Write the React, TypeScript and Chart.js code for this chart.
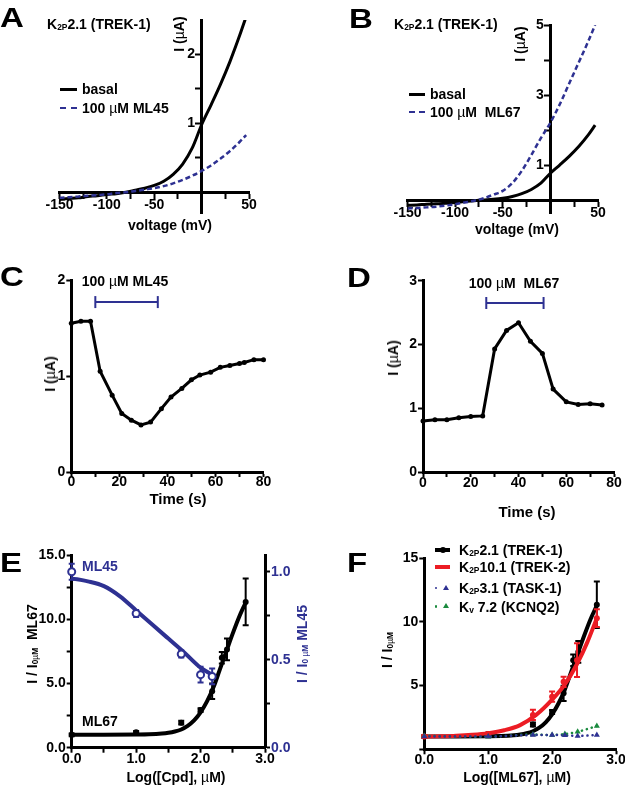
import React, { useEffect, useRef } from "react";
import { Chart, registerables } from "chart.js";
Chart.register(...registerables);

const FONT = 'Arial, "Liberation Sans", Helvetica, sans-serif';
const BLUE = "#2e3192";
const RED = "#ec1c24";
const GREEN = "#1a8a3e";

// ---------- Panel A : K2P2.1 I-V, ML45 ----------
const voltageA = [-150, -140, -130, -120, -110, -100, -90, -80, -70, -60, -50, -40, -30, -20, -10, 0, 10, 20, 30, 40, 47];
const basalA = [-0.1, -0.09, -0.08, -0.06, -0.05, -0.03, -0.02, 0.0, 0.03, 0.06, 0.1, 0.16, 0.26, 0.41, 0.64, 0.98, 1.27, 1.57, 1.9, 2.27, 2.55];
const ml45A = [-0.08, -0.07, -0.06, -0.05, -0.04, -0.03, -0.01, 0.0, 0.02, 0.04, 0.06, 0.09, 0.13, 0.18, 0.24, 0.31, 0.39, 0.49, 0.6, 0.73, 0.83];
const voltTicks = [-150, -125, -100, -75, -50, -25, 0, 25, 50];
const voltLabels = ["-150", "", "-100", "", "-50", "", "", "", "50"];
const ampTicksA = [0.5, 1, 1.5, 2];
const ampLabelsA = ["", "1", "", "2"];

// ---------- Panel B : K2P2.1 I-V, ML67 ----------
const voltageB = [-150, -140, -130, -120, -110, -100, -90, -80, -70, -60, -50, -40, -30, -20, -10, 0, 10, 20, 30, 40, 47];
const basalB = [-0.13, -0.12, -0.1, -0.09, -0.07, -0.05, -0.02, 0.0, 0.02, 0.04, 0.07, 0.12, 0.2, 0.32, 0.5, 0.78, 1.02, 1.27, 1.55, 1.88, 2.15];
const ml67B = [-0.22, -0.21, -0.19, -0.17, -0.14, -0.1, -0.05, 0.0, 0.07, 0.17, 0.28, 0.5, 0.85, 1.3, 1.78, 2.22, 2.75, 3.35, 3.95, 4.55, 5.0];
const ampTicksB = [1, 2, 3, 4, 5];
const ampLabelsB = ["1", "", "3", "", "5"];

// ---------- Panel C : time course ML45 ----------
const timeC = [0, 4, 8, 12, 17, 21, 25, 29, 33, 37.5, 41.5, 46, 50, 53.5, 58, 62, 66, 70, 72, 76, 80];
const currentC = [1.55, 1.57, 1.57, 1.05, 0.8, 0.61, 0.54, 0.49, 0.52, 0.66, 0.78, 0.87, 0.96, 1.01, 1.04, 1.09, 1.11, 1.13, 1.14, 1.17, 1.17];
const barTimeC = [10, 36];
const barLevelC = [1.77, 1.77];

// ---------- Panel D : time course ML67 ----------
const timeD = [0, 5, 10, 15, 20, 25, 30, 35, 40, 45, 50, 54.5, 60, 65, 70, 75];
const currentD = [0.8, 0.82, 0.82, 0.85, 0.87, 0.88, 1.93, 2.22, 2.34, 2.05, 1.86, 1.3, 1.1, 1.06, 1.07, 1.05];
const barTimeD = [26.5, 50.5];
const barLevelD = [2.65, 2.65];
const timeTicks = [0, 10, 20, 30, 40, 50, 60, 70, 80];
const timeLabels = ["0", "", "20", "", "40", "", "60", "", "80"];

// ---------- Panel E : dose response ----------
const logCpd67 = [0, 1.0, 1.7, 2.0, 2.18, 2.33, 2.41, 2.7];
const ratio67 = [1.0, 1.2, 1.95, 2.93, 4.4, 7.0, 7.65, 11.35];
const err67 = [0.1, 0.1, 0.15, 0.15, 0.6, 0.45, 0.85, 1.82];
const fitX67 = [0, 0.5, 1.0, 1.2, 1.4, 1.5, 1.6, 1.7, 1.8, 1.9, 2.0, 2.1, 2.2, 2.3, 2.4, 2.5, 2.6, 2.7];
const fitY67 = [1.0, 1.0, 1.02, 1.04, 1.1, 1.16, 1.26, 1.42, 1.7, 2.12, 2.75, 3.6, 4.7, 6.1, 7.5, 8.9, 10.2, 11.3];
const logCpd45 = [0, 1.0, 1.7, 2.0, 2.18];
const ratio45 = [1.0, 0.763, 0.532, 0.415, 0.405];
const err45 = [0.045, 0.02, 0.02, 0.045, 0.045];
const fitX45 = [0, 0.25, 0.5, 0.75, 1.0, 1.25, 1.5, 1.75, 2.0, 2.2];
const fitY45 = [0.962, 0.945, 0.918, 0.86, 0.78, 0.7, 0.62, 0.54, 0.455, 0.41];
const logTicks = [0, 0.5, 1, 1.5, 2, 2.5, 3];
const logLabels = ["0.0", "", "1.0", "", "2.0", "", "3.0"];
const ratioTicksE = [0, 2.5, 5, 7.5, 10, 12.5, 15];
const ratioLabelsE = ["0.0", "", "5.0", "", "10.0", "", "15.0"];
const ratio45Ticks = [0, 0.25, 0.5, 0.75, 1.0];
const ratio45Labels = ["0.0", "", "0.5", "", "1.0"];

// ---------- Panel F : selectivity ----------
const logTrek2 = [0, 1.0, 1.7, 2.0, 2.18, 2.39, 2.7];
const trek2 = [1.0, 1.2, 2.7, 4.13, 5.3, 7.0, 10.3];
const trek2Err = [0.1, 0.1, 0.4, 0.4, 0.4, 1.33, 0.7];
const fitXTrek2 = [0, 0.25, 0.5, 0.75, 1.0, 1.25, 1.5, 1.75, 2.0, 2.2, 2.4, 2.55, 2.7];
const fitYTrek2 = [1.0, 1.02, 1.06, 1.14, 1.27, 1.5, 1.9, 2.7, 3.9, 5.1, 6.8, 8.4, 10.3];
const logOther = [0, 1.0, 1.7, 2.0, 2.2, 2.4, 2.7];
const task1 = [1.0, 1.0, 1.12, 1.12, 1.1, 1.05, 1.12];
const kcnq2 = [1.05, 0.99, 1.17, 1.12, 1.2, 1.38, 1.83];
const logTicksF = [0, 1, 2, 3];
const logLabelsF = ["0.0", "1.0", "2.0", "3.0"];
const ratioTicksF = [0, 5, 10, 15];
const ratioLabelsF = ["", "5", "10", "15"];

const pts = (xs: number[], ys: number[]) => xs.map((x, i) => ({ x, y: ys[i] }));

const errorBarPlugin = {
  id: "errorBars",
  beforeDatasetDraw(chart: any, args: any) {
    const ds = chart.data.datasets[args.index];
    const errs = ds.errorBars;
    if (!errs) return;
    const meta = args.meta;
    const xs = chart.scales[meta.xAxisID];
    const ys = chart.scales[meta.yAxisID];
    const ctx = chart.ctx;
    ctx.save();
    ctx.strokeStyle = ds.errorColor || ds.borderColor;
    ctx.lineWidth = 2;
    const cap = 3;
    ds.data.forEach((p: any, j: number) => {
      const e = errs[j];
      if (!e) return;
      const px = xs.getPixelForValue(p.x);
      const y1 = ys.getPixelForValue(p.y + e);
      const y2 = ys.getPixelForValue(p.y - e);
      ctx.beginPath();
      ctx.moveTo(px, y1);
      ctx.lineTo(px, y2);
      ctx.moveTo(px - cap, y1);
      ctx.lineTo(px + cap, y1);
      ctx.moveTo(px - cap, y2);
      ctx.lineTo(px + cap, y2);
      ctx.stroke();
    });
    ctx.restore();
  },
};

function axisCfg(o: {
  min: number;
  max: number;
  position: any;
  ticks: number[];
  labels: string[];
  size: number;
  color?: string;
  padding?: number;
  suffix?: string;
}) {
  return {
    type: "linear",
    min: o.min,
    max: o.max,
    position: o.position,
    afterFit: (s: any) => {
      if (s.isHorizontal()) s.height = o.size;
      else s.width = o.size;
    },
    afterBuildTicks: (s: any) => {
      s.ticks = o.ticks.map((v) => ({ value: v }));
    },
    ticks: {
      autoSkip: false,
      maxRotation: 0,
      minRotation: 0,
      padding: o.padding ?? 1,
      color: o.color || "#000",
      font: { family: FONT, size: 14, weight: "bold" },
      callback: (_v: any, i: number) => (o.labels[i] ? o.labels[i] + (o.suffix || "") : ""),
    },
    grid: {
      display: true,
      drawOnChartArea: false,
      drawTicks: true,
      tickLength: 5,
      tickWidth: 2,
      tickColor: "#000",
    },
    border: { display: true, color: "#000", width: 3 },
  };
}

function baseOptions(padding: any, scales: any) {
  return {
    animation: false,
    responsive: false,
    events: [],
    layout: { padding, autoPadding: false },
    plugins: { legend: { display: false }, tooltip: { enabled: false }, title: { display: false } },
    scales,
  };
}

function ChartCanvas({ left, top, width, height, make }: any) {
  const ref = useRef<HTMLCanvasElement | null>(null);
  useEffect(() => {
    const chart = new Chart(ref.current as HTMLCanvasElement, make());
    return () => chart.destroy();
  }, []);
  return (
    <canvas
      ref={ref}
      width={width}
      height={height}
      style={{ position: "absolute", left, top, width, height, display: "block" }}
    />
  );
}

function T({ x, y, size = 14, anchor = "left", color = "#000", rotate = false, weight = "bold", sx = 1, children }: any) {
  let transform = anchor === "center" ? "translate(-50%,-50%)" : "translate(0,-50%)";
  if (rotate) transform = "translate(-50%,-50%) rotate(-90deg)";
  if (sx !== 1) transform += ` scaleX(${sx})`;
  return (
    <div
      style={{
        position: "absolute",
        left: x,
        top: y,
        fontSize: size,
        fontWeight: weight as any,
        color,
        lineHeight: 1,
        whiteSpace: "nowrap",
        fontFamily: FONT,
        transform,
        transformOrigin: sx !== 1 ? "left center" : undefined,
      }}
    >
      {children}
    </div>
  );
}

const Mu = () => <span style={{ fontWeight: "normal" }}>µ</span>;
const Sub = ({ children }: any) => (
  <span style={{ fontSize: "0.6em", verticalAlign: "-0.1em" }}>{children}</span>
);

function Swatch({ x, y, w, color, dashed = false, thick = 3 }: any) {
  return (
    <div
      style={{
        position: "absolute",
        left: x,
        top: y - thick / 2,
        width: w,
        height: 0,
        borderTop: `${thick}px ${dashed ? "dashed" : "solid"} ${color}`,
      }}
    />
  );
}

function Dot({ x, y, r, color, tri = false }: any) {
  if (tri) {
    return (
      <div
        style={{
          position: "absolute",
          left: x - r,
          top: y - r,
          width: 0,
          height: 0,
          borderLeft: `${r}px solid transparent`,
          borderRight: `${r}px solid transparent`,
          borderBottom: `${r * 1.7}px solid ${color}`,
        }}
      />
    );
  }
  return (
    <div
      style={{
        position: "absolute",
        left: x - r,
        top: y - r,
        width: 2 * r,
        height: 2 * r,
        borderRadius: "50%",
        background: color,
      }}
    />
  );
}

const lineDs = (xs: number[], ys: number[], color: string, width: number, extra: any = {}) => ({
  data: pts(xs, ys),
  showLine: true,
  borderColor: color,
  backgroundColor: color,
  borderWidth: width,
  pointRadius: 0,
  cubicInterpolationMode: "monotone",
  ...extra,
});

const makeA = () => ({
  type: "scatter",
  data: {
    datasets: [
      lineDs(voltageA, ml45A, BLUE, 2.5, { borderDash: [5, 3] }),
      lineDs(voltageA, basalA, "#000", 3),
    ],
  },
  options: baseOptions(
    { left: 59.5, top: 20, right: 63, bottom: 47 },
    {
      x: axisCfg({
        min: -150,
        max: 50,
        position: { y: 0 },
        ticks: voltTicks,
        labels: voltLabels,
        size: 0,
        padding: -1,
      }),
      y: axisCfg({
        min: -0.3,
        max: 2.5,
        position: { x: 0 },
        ticks: ampTicksA,
        labels: ampLabelsA,
        size: 0,
        suffix: " \u2009",
      }),
    }
  ),
});

const makeB = () => ({
  type: "scatter",
  data: {
    datasets: [
      lineDs(voltageB, ml67B, BLUE, 2.5, { borderDash: [5, 3] }),
      lineDs(voltageB, basalB, "#000", 3),
    ],
  },
  options: baseOptions(
    { left: 95.5, top: 25, right: 27, bottom: 47 },
    {
      x: axisCfg({
        min: -150,
        max: 50,
        position: { y: 0 },
        ticks: voltTicks,
        labels: voltLabels,
        size: 0,
        padding: -1,
      }),
      y: axisCfg({
        min: -0.35,
        max: 5,
        position: { x: 0 },
        ticks: ampTicksB,
        labels: ampLabelsB,
        size: 0,
        suffix: " \u2009",
      }),
    }
  ),
});

const barDs = (xs: number[], ys: number[]) => ({
  data: pts(xs, ys),
  showLine: true,
  borderColor: BLUE,
  backgroundColor: BLUE,
  borderWidth: 2,
  pointStyle: "line",
  rotation: 90,
  pointRadius: 6,
  pointBorderWidth: 2,
  pointBorderColor: BLUE,
  clip: false,
});

const traceDs = (xs: number[], ys: number[]) => ({
  data: pts(xs, ys),
  showLine: true,
  borderColor: "#000",
  backgroundColor: "#000",
  borderWidth: 3,
  pointRadius: 2.5,
  pointBorderWidth: 0,
  pointBackgroundColor: "#000",
  tension: 0,
  clip: false,
});

const makeC = () => ({
  type: "scatter",
  data: { datasets: [traceDs(timeC, currentC), barDs(barTimeC, barLevelC)] },
  options: baseOptions(
    { left: 0, top: 20, right: 48.5, bottom: 0 },
    {
      x: axisCfg({
        min: 0,
        max: 80,
        position: "bottom",
        ticks: timeTicks,
        labels: timeLabels,
        size: 48,
        padding: -3,
      }),
      y: axisCfg({ min: 0, max: 2, position: "left", ticks: [0, 1, 2], labels: ["0", "1", "2"], size: 71.3 }),
    }
  ),
});

const makeD = () => ({
  type: "scatter",
  data: { datasets: [traceDs(timeD, currentD), barDs(barTimeD, barLevelD)] },
  options: baseOptions(
    { left: 0, top: 20.7, right: 11, bottom: 0 },
    {
      x: axisCfg({
        min: 0,
        max: 80,
        position: "bottom",
        ticks: timeTicks,
        labels: timeLabels,
        size: 48,
        padding: -2,
      }),
      y: axisCfg({
        min: 0,
        max: 3,
        position: "left",
        ticks: [0, 1, 2, 3],
        labels: ["0", "1", "2", "3"],
        size: 111,
      }),
    }
  ),
});

const pointDs = (xs: number[], ys: number[], errs: number[] | undefined, color: string, extra: any = {}) => ({
  data: pts(xs, ys),
  showLine: false,
  borderColor: color,
  backgroundColor: color,
  pointRadius: 3,
  pointBorderWidth: 0,
  pointBackgroundColor: color,
  errorBars: errs,
  clip: false,
  ...extra,
});

const makeE = () => ({
  type: "scatter",
  data: {
    datasets: [
      pointDs(logCpd45, ratio45, err45, BLUE, {
        yAxisID: "y2",
        pointBackgroundColor: "#fff",
        pointBorderColor: BLUE,
        pointBorderWidth: 2,
        pointRadius: 3.5,
      }),
      lineDs(fitX45, fitY45, BLUE, 4, { yAxisID: "y2" }),
      pointDs(logCpd67, ratio67, err67, "#000", { yAxisID: "y" }),
      lineDs(fitX67, fitY67, "#000", 4, { yAxisID: "y" }),
    ],
  },
  options: baseOptions(
    { left: 0, top: 35, right: 0, bottom: 0 },
    {
      x: axisCfg({
        min: 0,
        max: 3,
        position: "bottom",
        ticks: logTicks,
        labels: logLabels,
        size: 43.3,
        padding: -2,
      }),
      y: axisCfg({
        min: 0,
        max: 15,
        position: "left",
        ticks: ratioTicksE,
        labels: ratioLabelsE,
        size: 71.7,
      }),
      y2: axisCfg({
        min: 0,
        max: 1.095,
        position: "right",
        ticks: ratio45Ticks,
        labels: ratio45Labels,
        color: BLUE,
        size: 47,
      }),
    }
  ),
  plugins: [errorBarPlugin],
});

const makeF = () => ({
  type: "scatter",
  data: {
    datasets: [
      pointDs(logOther, task1, undefined, BLUE, { pointStyle: "triangle", pointRadius: 3.5 }),
      pointDs(logOther, kcnq2, undefined, GREEN, { pointStyle: "triangle", pointRadius: 3.5 }),
      lineDs(logOther, task1, BLUE, 2.5, { borderDash: [0.1, 5], borderCapStyle: "round" }),
      lineDs(logOther, kcnq2, GREEN, 2.5, { borderDash: [0.1, 5], borderCapStyle: "round" }),
      pointDs(logTrek2, trek2, trek2Err, RED),
      lineDs(fitXTrek2, fitYTrek2, RED, 4),
      pointDs(logCpd67, ratio67, err67, "#000"),
      lineDs(fitX67, fitY67, "#000", 4),
    ],
  },
  options: baseOptions(
    { left: 0, top: 38.3, right: 9, bottom: 0 },
    {
      x: axisCfg({
        min: 0,
        max: 3,
        position: "bottom",
        ticks: logTicksF,
        labels: logLabelsF,
        size: 41.7,
        padding: -3,
      }),
      y: axisCfg({
        min: 0,
        max: 15,
        position: "left",
        ticks: ratioTicksF,
        labels: ratioLabelsF,
        size: 112.3,
      }),
    }
  ),
  plugins: [errorBarPlugin],
});

export default function App() {
  return (
    <div
      style={{
        position: "absolute",
        left: 0,
        top: 0,
        width: 625,
        height: 791,
        background: "#fff",
        overflow: "hidden",
        fontFamily: FONT,
      }}
    >
      <ChartCanvas left={0} top={0} width={312} height={260} make={makeA} />
      <ChartCanvas left={312} top={0} width={313} height={260} make={makeB} />
      <ChartCanvas left={0} top={260} width={312} height={260} make={makeC} />
      <ChartCanvas left={312} top={260} width={313} height={260} make={makeD} />
      <ChartCanvas left={0} top={520} width={312} height={271} make={makeE} />
      <ChartCanvas left={312} top={520} width={313} height={271} make={makeF} />

      {/* panel letters */}
      <T x={0} y={17.5} size={28} sx={1.18}>A</T>
      <T x={349} y={18.5} size={28} sx={1.18}>B</T>
      <T x={0} y={277} size={28} sx={1.18}>C</T>
      <T x={347} y={277.5} size={28} sx={1.18}>D</T>
      <T x={0} y={562.5} size={28} sx={1.18}>E</T>
      <T x={347} y={562.5} size={28} sx={1.18}>F</T>

      {/* Panel A */}
      <T x={47} y={24}>K<Sub>2P</Sub>2.1 (TREK-1)</T>
      <Swatch x={60} y={89} w={17} color="#000" thick={3} />
      <Swatch x={60} y={108} w={17} color={BLUE} dashed thick={2.5} />
      <T x={82} y={89}>basal</T>
      <T x={82} y={108}>100 <Mu />M ML45</T>
      <T x={179} y={34} rotate>I (<Mu />A)</T>
      <T x={170} y={225} anchor="center">voltage (mV)</T>

      {/* Panel B */}
      <T x={394} y={24}>K<Sub>2P</Sub>2.1 (TREK-1)</T>
      <Swatch x={409} y={94} w={16} color="#000" thick={3} />
      <Swatch x={409} y={112} w={16} color={BLUE} dashed thick={2.5} />
      <T x={430} y={94}>basal</T>
      <T x={430} y={112}>100 <Mu />M&nbsp; ML67</T>
      <T x={520} y={44} rotate>I (<Mu />A)</T>
      <T x={517} y={229} anchor="center">voltage (mV)</T>

      {/* Panel C */}
      <T x={125} y={281} anchor="center">100 <Mu />M ML45</T>
      <T x={50} y={374} rotate>I (<Mu />A)</T>
      <T x={178} y={498} anchor="center" size={15}>Time (s)</T>

      {/* Panel D */}
      <T x={514} y={283} anchor="center">100 <Mu />M&nbsp; ML67</T>
      <T x={393} y={358} rotate>I (<Mu />A)</T>
      <T x={527} y={511} anchor="center" size={15}>Time (s)</T>

      {/* Panel E */}
      <T x={82} y={566} color={BLUE}>ML45</T>
      <T x={82} y={721}>ML67</T>
      <T x={32} y={644} rotate>I / I<Sub>0<Mu />M</Sub>&nbsp; ML67</T>
      <T x={302} y={644} rotate color={BLUE}>I / I<Sub>0 <Mu />M</Sub> ML45</T>
      <T x={176} y={777} anchor="center">Log([Cpd], <Mu />M)</T>

      {/* Panel F */}
      <Swatch x={435} y={550} w={15} color="#000" thick={4} />
      <Dot x={442.5} y={550} r={3} color="#000" />
      <Swatch x={435} y={567} w={15} color={RED} thick={4} />
      <Dot x={436} y={588} r={1.2} color={BLUE} />
      <Dot x={446} y={588} r={3.5} color={BLUE} tri />
      <Dot x={436} y={606.5} r={1.2} color={GREEN} />
      <Dot x={446} y={606.5} r={3.5} color={GREEN} tri />
      <T x={459} y={550}>K<Sub>2P</Sub>2.1 (TREK-1)</T>
      <T x={459} y={567}>K<Sub>2P</Sub>10.1 (TREK-2)</T>
      <T x={459} y={588}>K<Sub>2P</Sub>3.1 (TASK-1)</T>
      <T x={459} y={606.5}>K<Sub>v</Sub> 7.2 (KCNQ2)</T>
      <T x={387} y={650} rotate>I / I<Sub>0<Mu />M</Sub></T>
      <T x={517} y={777} anchor="center">Log([ML67], <Mu />M)</T>
    </div>
  );
}
